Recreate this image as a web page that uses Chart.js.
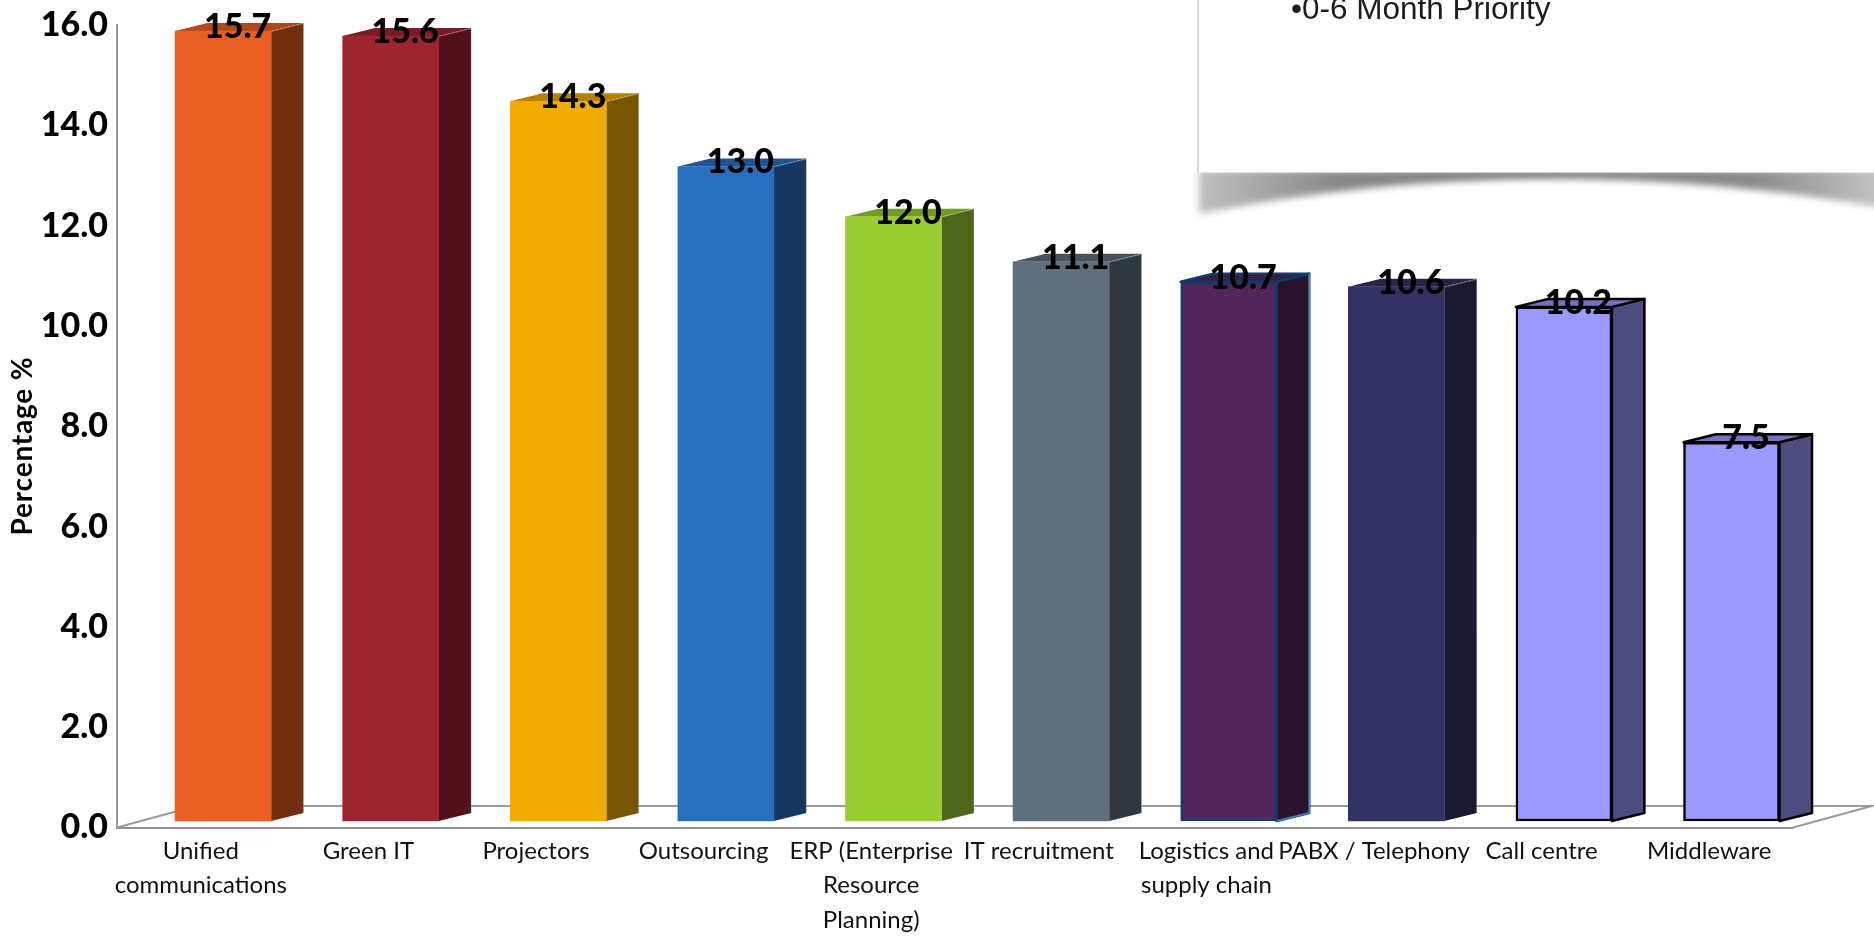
<!DOCTYPE html>
<html>
<head>
<meta charset="utf-8">
<style>html,body{margin:0;padding:0;background:#fff}canvas{display:block}</style>
<script src="https://cdn.jsdelivr.net/npm/chart.js@4"></script>
</head>
<body>
<canvas id="c" width="1874" height="937"></canvas>
<script>
const categories = [
  ["Unified","communications"],"Green IT","Projectors","Outsourcing",
  ["ERP (Enterprise","Resource","Planning)"],"IT recruitment",
  ["Logistics and","supply chain"],"PABX / Telephony","Call centre","Middleware"
];
const percentages = [15.7,15.6,14.3,13.0,12.0,11.1,10.7,10.6,10.2,7.5];
const frontColors = ["#E95F23","#9E2530","#F2AB00","#2A6FBF","#9ACD32","#5E6F7D","#52265A","#323264","#9999FF","#9999FF"];
const sideColors  = ["#732E10","#521118","#785500","#153760","#4D6619","#2F383F","#29132D","#191932","#4D4D80","#4D4D80"];
const topColors   = ["#B0481B","#771C24","#B68000","#205390","#749A26","#47535E","#3E1D44","#26264B","#7373BF","#7373BF"];
const edgeColors  = [null,null,null,null,null,null,"#123A6B",null,"#000000","#000000"];
const outerEdgeColors = [null,null,null,null,null,null,"#4F81BD",null,null,null];
const yTitle = "Percentage %";
const calloutText = "\u20220-6 Month Priority";

const DX = 22.3, DY = -9, DEPTH_X = 32.5, DEPTH_Y = 8;

const scene3d = {
  id: "scene3d",
  beforeDatasetsDraw(chart) {
    const c = chart.ctx, a = chart.chartArea;
    c.save();
    c.strokeStyle = "#9a9a9a"; c.lineWidth = 2;
    c.beginPath();
    c.moveTo(a.left, a.bottom); c.lineTo(a.left + 79, a.bottom - 21.5);
    c.lineTo(a.right + 79, a.bottom - 21.5); c.lineTo(a.right, a.bottom);
    c.stroke();
    c.restore();
  },
  beforeDatasetDraw(chart, args) {
    const c = chart.ctx;
    c.save();
    c.translate(DX, DY);
    args.meta.data.forEach((b, i) => {
      const l = b.x - b.width / 2, r = b.x + b.width / 2, t = b.y, bt = b.base;
      const edge = edgeColors[i], outer = outerEdgeColors[i];
      c.lineJoin = "round";
      c.fillStyle = sideColors[i];
      c.beginPath();
      c.moveTo(r, t); c.lineTo(r + DEPTH_X, t - DEPTH_Y);
      c.lineTo(r + DEPTH_X, bt - DEPTH_Y); c.lineTo(r, bt); c.closePath();
      c.fill();
      if (edge) { c.strokeStyle = edge; c.lineWidth = 2.5; c.stroke(); }
      c.fillStyle = topColors[i];
      c.beginPath();
      c.moveTo(l, t); c.lineTo(l + DEPTH_X, t - DEPTH_Y);
      c.lineTo(r + DEPTH_X, t - DEPTH_Y); c.lineTo(r, t); c.closePath();
      c.fill();
      if (edge) { c.strokeStyle = edge; c.lineWidth = 2.5; c.stroke(); }
      else {
        c.strokeStyle = "rgba(255,255,255,0.28)"; c.lineWidth = 1;
        c.beginPath();
        c.moveTo(l, t + .5); c.lineTo(r, t + .5); c.lineTo(r + DEPTH_X, t - DEPTH_Y + .5);
        c.lineTo(r + DEPTH_X, bt - DEPTH_Y);
        c.stroke();
      }
      if (outer) {
        c.strokeStyle = outer; c.lineWidth = 1.5;
        c.beginPath();
        c.moveTo(r + DEPTH_X, t - DEPTH_Y); c.lineTo(r + DEPTH_X, bt - DEPTH_Y); c.lineTo(r, bt);
        c.stroke();
      }
    });
  },
  afterDatasetDraw(chart) { chart.ctx.restore(); },
  afterDatasetsDraw(chart) {
    const c = chart.ctx, meta = chart.getDatasetMeta(0);
    c.save();
    // value labels
    c.font = "900 34px Lato"; c.fillStyle = "#000";
    c.textAlign = "center"; c.textBaseline = "middle";
    meta.data.forEach((b, i) => {
      c.fillText(percentages[i].toFixed(1), b.x + DX + 14.5, b.y + DY - 4);
    });
    // axis title
    c.save();
    c.translate(23, 446); c.rotate(-Math.PI / 2);
    c.font = "bold 28px Lato";
    c.letterSpacing = "0.8px";
    c.fillText(yTitle, 0, 0);
    c.restore();
    // callout shadow
    c.save();
    c.filter = "blur(3.5px)";
    const g = c.createLinearGradient(1197, 0, 1874, 0);
    g.addColorStop(0, "#c0c0c0"); g.addColorStop(.2, "#8a8a8a"); g.addColorStop(.5, "#777");
    g.addColorStop(.82, "#8a8a8a"); g.addColorStop(1, "#c0c0c0");
    c.fillStyle = g;
    c.beginPath();
    c.moveTo(1199, 170); c.lineTo(1199, 214);
    c.quadraticCurveTo(1535, 146, 1890, 209);
    c.lineTo(1890, 170); c.closePath();
    c.fill();
    c.restore();
    // callout box
    c.fillStyle = "#fff"; c.fillRect(1198, 0, 680, 172.5);
    c.fillStyle = "#d8d8d8"; c.fillRect(1197, 0, 2, 173);
    c.font = "31.5px 'Liberation Sans'"; c.fillStyle = "#1c1c1c";
    c.textAlign = "left"; c.textBaseline = "alphabetic";
    c.fillText(calloutText, 1291, 19);
    c.restore();
  }
};

new Chart(document.getElementById("c"), {
  type: "bar",
  data: {
    labels: categories,
    datasets: [{
      data: percentages,
      base: -0.05,
      clip: false,
      backgroundColor: frontColors,
      borderColor: edgeColors.map(e => e || "rgba(0,0,0,0)"),
      borderWidth: edgeColors.map(e => e ? 2.5 : 0),
      borderSkipped: false,
      barThickness: 96
    }]
  },
  options: {
    responsive: false,
    animation: false,
    devicePixelRatio: 1,
    layout: { padding: { left: 0, top: 25, right: 81, bottom: 0 } },
    plugins: { legend: { display: false }, tooltip: { enabled: false } },
    scales: {
      x: {
        grid: { display: false },
        border: { display: true, color: "#8f8f8f", width: 2 },
        ticks: {
          autoSkip: false, maxRotation: 0, minRotation: 0, padding: -2, color: "#111",
          font: { family: "Lato", size: 24, lineHeight: 1.44 }
        },
        afterFit(s) { s.height = 109.5; }
      },
      y: {
        min: 0, max: 16,
        grid: { display: false },
        border: { display: true, color: "#999", width: 2 },
        ticks: {
          stepSize: 2, padding: 1, color: "#000",
          font: { family: "Lato", size: 34, weight: "900" },
          callback: v => v.toFixed(1)
        },
        afterFit(s) { s.width = 117; }
      }
    }
  },
  plugins: [scene3d]
});
</script>
</body>
</html>
